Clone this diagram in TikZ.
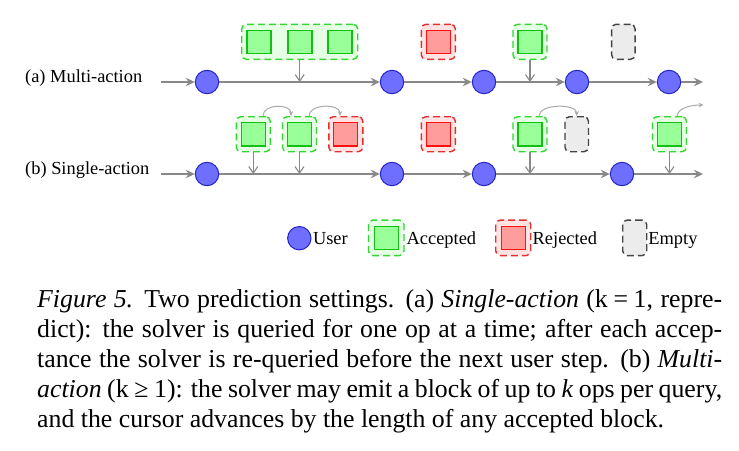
\documentclass[tikz,border=0pt]{standalone}
\usepackage{fontspec}
\setmainfont{Liberation Serif}
\usetikzlibrary{arrows.meta}
\definecolor{userfill}{HTML}{6F6FFF}
\definecolor{userline}{HTML}{2323C8}
\definecolor{flow}{HTML}{888888}
\definecolor{hop}{HTML}{AAAAAA}
\definecolor{accbg}{HTML}{E4FFE4}
\definecolor{accdash}{HTML}{33D633}
\definecolor{accfill}{HTML}{99FF99}
\definecolor{accline}{HTML}{11C011}
\definecolor{rejbg}{HTML}{FFE2E2}
\definecolor{rejdash}{HTML}{E03030}
\definecolor{rejfill}{HTML}{FF9C9C}
\definecolor{rejline}{HTML}{FF1010}
\definecolor{empbg}{HTML}{ECECEC}
\definecolor{empdash}{HTML}{444444}
\tikzset{
  user/.style={circle, draw=userline, fill=userfill, minimum size=23.4pt, inner sep=0pt, line width=1pt},
  outerbox/.style={rounded corners=4.5pt, minimum height=35pt, inner sep=0pt, line width=1.4pt, dash pattern=on 7pt off 4pt},
  accbox/.style={outerbox, draw=accdash, fill=accbg, minimum width=34pt},
  rejbox/.style={outerbox, draw=rejdash, fill=rejbg, minimum width=34pt},
  empbox/.style={outerbox, draw=empdash, fill=empbg, minimum width=23.5pt},
  groupbox/.style={outerbox, draw=accdash, fill=accbg, minimum width=116pt},
  innersq/.style={minimum width=24pt, minimum height=23.5pt, inner sep=0pt, line width=1.1pt},
  accsq/.style={innersq, draw=accline, fill=accfill},
  rejsq/.style={innersq, draw=rejline, fill=rejfill},
  flowline/.style={draw=flow, line width=1.5pt, -{Stealth[length=9pt,width=8.5pt]}},
  drop/.style={draw=flow, line width=1.1pt, -{Straight Barb[length=6.5pt,width=9pt]}},
  hopline/.style={draw=hop, line width=1pt, -{Stealth[length=5pt,width=4.5pt]}},
  lbl/.style={font=\fontsize{18.4}{22}\selectfont, inner sep=0pt, anchor=base west},
}
\begin{document}
\begin{tikzpicture}[x=1pt,y=-1pt]
\useasboundingbox (0,0) rectangle (739,450);

% ---------- row (a) ----------
\node[lbl] (la) at (25,82) {(a) Multi-action};
\coordinate (sa) at (161,82);
\coordinate (ea) at (703,82);
\node[user] (ua1) at (207,82) {};
\node[user] (ua2) at (392,82) {};
\node[user] (ua3) at (484,82) {};
\node[user] (ua4) at (577,82) {};
\node[user] (ua5) at (669,82) {};
\draw[flowline] (sa) -- (ua1);
\draw[flowline] (ua1) -- (ua2);
\draw[flowline] (ua2) -- (ua3);
\draw[flowline] (ua3) -- (ua4);
\draw[flowline] (ua4) -- (ua5);
\draw[flowline] (ua5) -- (ea);

\node[groupbox] (ga) at (299.7,41.8) {};
\node[accsq] (ga1) at (259,41.8) {};
\node[accsq] (ga2) at (300,41.8) {};
\node[accsq] (ga3) at (340,41.8) {};
\coordinate (ga-hit) at (299.7,82);
\draw[drop] (ga.south) -- (ga-hit);

\node[rejbox] (ra) at (438.3,41.8) {};
\node[rejsq] (ra1) at (438.3,41.8) {};

\node[accbox] (aa) at (530,41.8) {};
\node[accsq] (aa1) at (530,41.8) {};
\coordinate (aa-hit) at (530,82);
\draw[drop] (aa.south) -- (aa-hit);

\node[empbox] (ea1) at (623.3,41.8) {};

% ---------- row (b) ----------
\node[lbl] (lb) at (25,174) {(b) Single-action};
\coordinate (sb) at (161,174);
\coordinate (eb) at (703,174);
\node[user] (ub1) at (207,174) {};
\node[user] (ub2) at (392,174) {};
\node[user] (ub3) at (484,174) {};
\node[user] (ub4) at (622,174) {};
\draw[flowline] (sb) -- (ub1);
\draw[flowline] (ub1) -- (ub2);
\draw[flowline] (ub2) -- (ub3);
\draw[flowline] (ub3) -- (ub4);
\draw[flowline] (ub4) -- (eb);

\node[accbox] (b1) at (253.3,134.2) {};
\node[accsq] (b1s) at (253.3,134.2) {};
\node[accbox] (b2) at (299.5,134.2) {};
\node[accsq] (b2s) at (299.5,134.2) {};
\node[rejbox] (b3) at (345.8,134.2) {};
\node[rejsq] (b3s) at (345.8,134.2) {};
\node[rejbox] (b4) at (438.3,134.2) {};
\node[rejsq] (b4s) at (438.3,134.2) {};
\node[accbox] (b5) at (530,134.2) {};
\node[accsq] (b5s) at (530,134.2) {};
\node[empbox] (b6) at (576.7,134.2) {};
\node[accbox] (b7) at (669.5,134.2) {};
\node[accsq] (b7s) at (669.5,134.2) {};

\coordinate (b1-hit) at (253.3,174);
\coordinate (b2-hit) at (299.5,174);
\coordinate (b5-hit) at (530,174);
\coordinate (b7-hit) at (669.5,174);
\draw[drop] (b1.south) -- (b1-hit);
\draw[drop] (b2.south) -- (b2-hit);
\draw[drop] (b5.south) -- (b5-hit);
\draw[drop] (b7.south) -- (b7-hit);

\draw[hopline] ([xshift=9.7pt]b1.north) .. controls +(0,-12.5) and +(0,-12.5) .. ([xshift=-8.5pt]b2.north);
\draw[hopline] ([xshift=9.5pt]b2.north) .. controls +(0,-12.5) and +(0,-12.5) .. ([xshift=-5.8pt]b3.north);
\draw[hopline] ([xshift=9pt]b5.north) .. controls +(0,-12.5) and +(0,-12.5) .. (b6.north);
\coordinate (b7-free) at (703.5,105);
\draw[hopline] ([xshift=7.5pt]b7.north) .. controls +(1,-9) and +(-10,0) .. (b7-free);

% ---------- legend ----------
\node[user] (lgu) at (299.3,238.2) {};
\node[lbl] (lgut) at (312.8,244.4) {User};
\node[accbox, minimum width=35.5pt, minimum height=35.5pt] (lga) at (386.2,237.8) {};
\node[accsq] (lgas) at (386.2,237.8) {};
\node[lbl] (lgat) at (406.5,244.4) {Accepted};
\node[rejbox, minimum width=35pt, minimum height=35.5pt] (lgr) at (513.2,237.8) {};
\node[rejsq] (lgrs) at (513.2,237.8) {};
\node[lbl] (lgrt) at (532.5,244.4) {Rejected};
\node[empbox, minimum width=24pt, minimum height=35.5pt] (lge) at (634.7,237.8) {};
\node[lbl] (lget) at (648.2,244.4) {Empty};

% ---------- caption ----------
\node[anchor=base west, inner sep=0pt, font=\fontsize{25.8}{30.2}\selectfont] (caption) at (37,307)
{\parbox[t]{685pt}{%
\makebox[685pt][s]{\textit{Figure 5.} Two prediction settings. (a) \textit{Single-action} (k\hspace{0.22em}=\hspace{0.22em}1, repre-}\\
\makebox[685pt][s]{dict): the solver is queried for one op at a time; after each accep-}\\
\makebox[685pt][s]{tance the solver is re-queried before the next user step. (b) \textit{Multi-}}\\
\makebox[685pt][s]{\textit{action} (k\hspace{0.22em}≥\hspace{0.22em}1): the solver may emit a block of up to \textit{k} ops per query,}\\
and the cursor advances by the length of any accepted block.}};
\end{tikzpicture}
\end{document}
